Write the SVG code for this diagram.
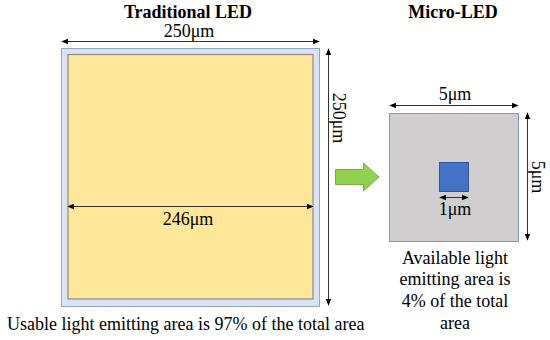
<svg xmlns="http://www.w3.org/2000/svg" width="550" height="340" viewBox="0 0 550 340">
<style>
.t{font-size:18px;font-weight:bold;fill:#000}
.l{font-size:18px;fill:#000}
.dim{stroke:#333;stroke-width:1;fill:none;marker-start:url(#ah);marker-end:url(#ah)}
</style>
<defs>
<marker id="ah" viewBox="0 0 10 10" refX="9" refY="5" markerWidth="7" markerHeight="7" markerUnits="userSpaceOnUse" orient="auto-start-reverse">
<path d="M0,1 L10,5 L0,9 z" fill="#000"/>
</marker>
</defs>
<rect width="550" height="340" fill="#fff"/>
<g id="traditional-led" font-family="Liberation Serif, DejaVu Serif, serif">
<text class="t" x="188" y="17.5" text-anchor="middle">Traditional LED</text>
<rect x="61.5" y="48.5" width="258" height="258" fill="#dae3f3" stroke="#8fa5c9" stroke-width="1"/>
<rect x="68" y="54.5" width="245" height="244.5" fill="#ffe699" stroke="#8c8c8c" stroke-width="1.2"/>
</g>
<g id="micro-led" font-family="Liberation Serif, DejaVu Serif, serif">
<text class="t" x="453" y="18" text-anchor="middle">Micro-LED</text>
<rect x="389.5" y="113.5" width="129" height="128" fill="#d0cece" stroke="#7f97c2" stroke-width="1"/>
<rect x="439.5" y="162.5" width="29" height="29" fill="#4472c4" stroke="#2f5597" stroke-width="1"/>
</g>
<g id="green-arrow">
<path d="M335.5,169.5 H363.5 V163 L379,177 L363.5,191 V184.5 H335.5 Z" fill="#92d050" stroke="#77b040" stroke-width="1"/>
</g>
<g id="connectors">
<line class="dim" x1="62" y1="41.5" x2="319" y2="41.5"/>
<line class="dim" x1="328.5" y1="49" x2="328.5" y2="305"/>
<line class="dim" x1="68" y1="206.5" x2="313" y2="206.5"/>
<line class="dim" x1="390" y1="105.5" x2="518" y2="105.5"/>
<line class="dim" x1="527.5" y1="113" x2="527.5" y2="240"/>
<line class="dim" x1="440" y1="197.5" x2="468" y2="197.5"/>
</g>
<g id="labels" font-family="Liberation Serif, DejaVu Serif, serif">
<text class="l" x="189" y="37" text-anchor="middle">250μm</text>
<text class="l" x="188" y="225" text-anchor="middle">246μm</text>
<text class="l" transform="translate(333,118) rotate(90)" text-anchor="middle">250μm</text>
<text class="l" x="455" y="100" text-anchor="middle">5μm</text>
<text class="l" transform="translate(532,177) rotate(90)" text-anchor="middle">5μm</text>
<text class="l" x="455" y="215" text-anchor="middle">1μm</text>
<text class="l" x="7" y="329.5">Usable light emitting area is 97% of the total area</text>
<text class="l" x="455" y="263.5" text-anchor="middle">Available light</text>
<text class="l" x="455" y="284.5" text-anchor="middle">emitting area is</text>
<text class="l" x="455" y="307" text-anchor="middle">4% of the total</text>
<text class="l" x="455" y="328.5" text-anchor="middle">area</text>
</g>
</svg>
